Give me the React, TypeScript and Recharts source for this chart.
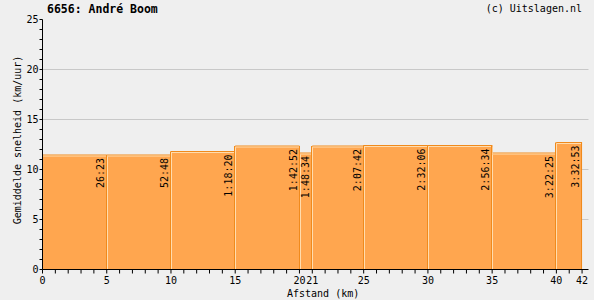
import { ComposedChart, Area, Line, Bar, XAxis, YAxis, CartesianGrid } from 'recharts';

// Split points along the course (km) and the speed over each stretch.
const splitKm = [0, 5, 10, 15, 20, 21, 25, 30, 35, 40, 42];
const segmentSpeed = [11.45, 11.45, 11.8, 12.35, 11.65, 12.35, 12.4, 12.4, 11.65, 12.7];
const splitTimes = ['26:23', '52:48', '1:18:20', '1:42:52', '1:48:34', '2:07:42', '2:32:06', '2:56:34', '3:22:25', '3:32:53'];

const xLabelTicks = [0, 5, 10, 15, 20, 21, 25, 30, 35, 40, 42];
const xTicks = Array.from({ length: 43 }, (_, i) => i);
const yLabelTicks = [0, 5, 10, 15, 20, 25];
const yTicks = Array.from({ length: 26 }, (_, i) => i);
const gridLevels = [5, 10, 15, 20];

const FILL = '#ffa64f';
const EDGE = '#f08a1c';
const HIGHLIGHT = '#ffdcae';
const BG = '#efefef';
const MONO = "'DejaVu Sans Mono', 'Liberation Mono', monospace";

// one row per split point; a row carries the speed of the stretch that ends there
const rows = splitKm.map((km, i) => ({
  km,
  speed: segmentSpeed[Math.max(i - 1, 0)],
  time: i > 0 ? splitTimes[i - 1] : '',
}));

const AXIS_TICK = { fontSize: 10, fill: '#000', fontFamily: MONO };

// divider at the end of each stretch, with the split time written down from the top
function SplitMarker(props: any) {
  const { x, y, width, height, index, payload } = props;
  if (!index) return <g />;
  const cx = Math.floor(x + width / 2) + 0.5;
  const base = y + height;
  const own = segmentSpeed[index - 1];
  const next = segmentSpeed[index];
  const perUnit = height / own;
  const top = base - Math.max(own, next ?? 0) * perUnit;
  return (
    <g>
      {next !== undefined && (
        <line x1={cx + 1} x2={cx + 1} y1={base} y2={base - next * perUnit + 1.5} stroke={HIGHLIGHT} />
      )}
      <line x1={cx} x2={cx} y1={base} y2={top} stroke={EDGE} strokeWidth={1} />
      <text
        transform={`translate(${cx - 3},${y + 3}) rotate(-90)`}
        textAnchor="end"
        fontFamily={MONO}
        fontSize={10}
        fill="#000"
      >
        {payload.time}
      </text>
    </g>
  );
}

export default function App() {
  return (
    <div style={{ position: 'relative', width: 594, height: 300, background: BG }}>
      <style>{'body{margin:0} path.hl, .hl path{transform:translateY(1px)}'}</style>
      <ComposedChart
        width={594}
        height={300}
        data={rows}
        margin={{ top: 19.5, right: 5.5, bottom: 0.5, left: 0 }}
      >
        <CartesianGrid vertical={false} stroke="#c8c8c8" horizontalValues={gridLevels} />
        <XAxis
          dataKey="km"
          type="number"
          domain={[0, 42.5]}
          ticks={xTicks}
          interval={0}
          tickSize={4}
          tickMargin={3}
          height={30}
          tick={AXIS_TICK}
          tickFormatter={(v: number) => (xLabelTicks.includes(v) ? String(v) : '')}
          axisLine={{ stroke: '#000' }}
          tickLine={{ stroke: '#000' }}
        />
        <YAxis
          type="number"
          domain={[0, 25]}
          ticks={yTicks}
          interval={0}
          width={42.5}
          tickSize={3}
          tickMargin={1}
          tick={AXIS_TICK}
          tickFormatter={(v: number) => (yLabelTicks.includes(v) ? String(v) : '')}
          axisLine={{ stroke: '#000' }}
          tickLine={{ stroke: '#000' }}
        />
        <Area
          dataKey="speed"
          type="stepBefore"
          fill={FILL}
          fillOpacity={1}
          stroke={EDGE}
          strokeWidth={1}
          dot={false}
          activeDot={false}
          isAnimationActive={false}
        />
        <Line
          className="hl"
          dataKey="speed"
          type="stepBefore"
          stroke={HIGHLIGHT}
          strokeWidth={1}
          dot={false}
          activeDot={false}
          isAnimationActive={false}
        />
        <Bar
          dataKey="speed"
          barSize={2}
          shape={SplitMarker}
          zIndex={450}
          isAnimationActive={false}
        />
      </ComposedChart>
      <svg
        width={594}
        height={300}
        style={{ position: 'absolute', left: 0, top: 0, pointerEvents: 'none' }}
      >
        <text x={47} y={13} fontFamily={MONO} fontSize={11.5} fontWeight="bold" fill="#000">
          6656: André Boom
        </text>
        <text x={582} y={12} textAnchor="end" fontFamily={MONO} fontSize={10} fill="#000">
          (c) Uitslagen.nl
        </text>
        <text
          transform="translate(20.5,140) rotate(-90)"
          textAnchor="middle"
          fontFamily={MONO}
          fontSize={10}
          fill="#000"
        >
          Gemiddelde snelheid (km/uur)
        </text>
        <text x={287} y={296.5} fontFamily={MONO} fontSize={10} fill="#000">
          Afstand (km)
        </text>
      </svg>
    </div>
  );
}
